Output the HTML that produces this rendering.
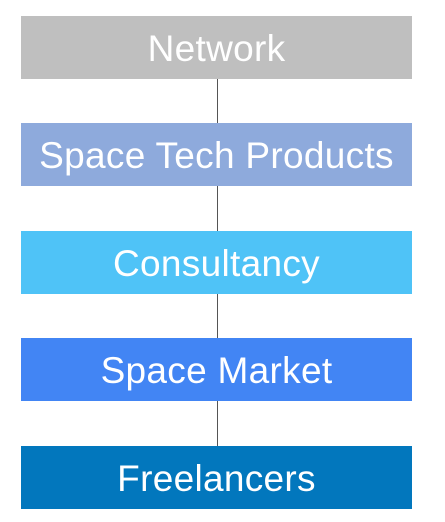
<!DOCTYPE html>
<html><head><meta charset="utf-8"><style>
html,body{margin:0;padding:0;background:#fff;}
body{width:445px;height:522px;position:relative;overflow:hidden;font-family:"Liberation Sans",sans-serif;}
.box{position:absolute;left:21px;width:391px;height:63px;box-sizing:border-box;padding-top:3px;color:#fff;font-size:37px;letter-spacing:0.3px;display:flex;align-items:center;justify-content:center;white-space:nowrap;}
.line{position:absolute;left:217px;width:1px;background:#555;}
</style></head><body>
<div class="line" style="top:79px;height:367px;"></div>
<div class="box" style="top:16px;background:#bfbfbf;">Network</div>
<div class="box" style="top:123px;background:#8eaadc;">Space Tech Products</div>
<div class="box" style="top:231px;background:#4fc3f7;">Consultancy</div>
<div class="box" style="top:338px;background:#4285f4;">Space Market</div>
<div class="box" style="top:446px;background:#0277bd;">Freelancers</div>
</body></html>
